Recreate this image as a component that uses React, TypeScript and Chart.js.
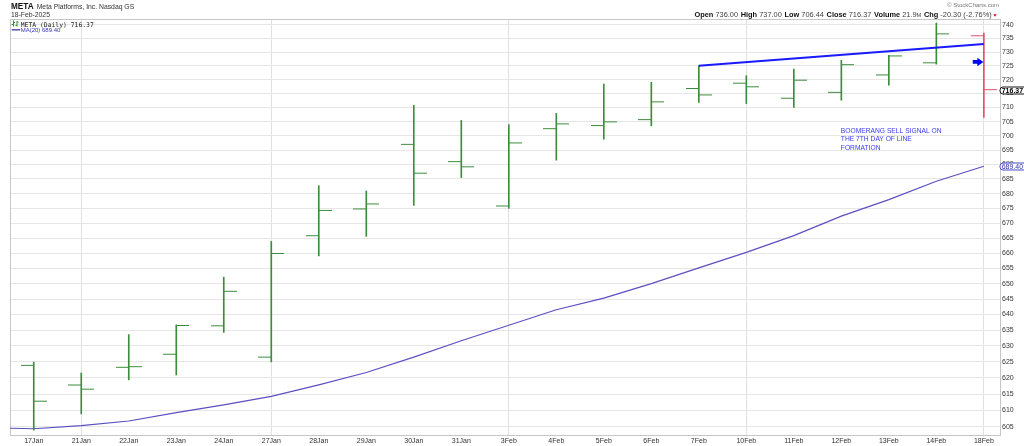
import React, { useEffect, useRef } from 'react';
import { Chart, registerables } from 'chart.js';

Chart.register(...registerables);

// ---------------- data ----------------
const categories = ['17Jan', '21Jan', '22Jan', '23Jan', '24Jan', '27Jan', '28Jan', '29Jan', '30Jan', '31Jan', '3Feb', '4Feb', '5Feb', '6Feb', '7Feb', '10Feb', '11Feb', '12Feb', '13Feb', '14Feb', '18Feb'];
const opens = [623.9, 617.8, 623.3, 627.4, 636.4, 626.5, 665.8, 674.8, 697.0, 691.0, 675.8, 702.5, 703.6, 705.7, 716.8, 718.7, 713.3, 715.4, 721.7, 726.1, 736.0];
const highs = [624.9, 621.5, 633.6, 636.7, 652.1, 663.9, 682.7, 680.9, 710.8, 705.4, 703.9, 707.9, 718.4, 719.0, 725.0, 721.4, 723.8, 727.0, 728.8, 740.7, 737.0];
const lows = [604.0, 608.9, 619.4, 620.9, 634.3, 625.0, 659.1, 665.6, 676.0, 685.5, 675.0, 691.5, 698.8, 703.5, 711.8, 711.4, 710.0, 712.6, 718.0, 725.6, 706.44];
const closes = [612.8, 616.5, 623.5, 636.5, 647.5, 659.9, 674.3, 676.5, 687.0, 689.2, 697.5, 704.2, 704.9, 712.0, 714.5, 717.4, 719.8, 725.4, 728.6, 736.7, 716.37];
// 20-day moving average (one lead-in value for the session before the first category)
const maLeadIn = 604.69;
const ma20 = [604.39, 605.36, 606.75, 609.31, 611.69, 614.3, 617.85, 621.68, 626.47, 631.66, 636.57, 641.54, 645.28, 649.98, 655.17, 660.25, 665.82, 672.38, 677.95, 684.22, 689.4];
const yTicks = [605, 610, 615, 620, 625, 630, 635, 640, 645, 650, 655, 660, 665, 670, 675, 680, 685, 690, 695, 700, 705, 710, 715, 720, 725, 730, 735, 740];
const weekStarts = ['21Jan', '27Jan', '3Feb', '10Feb', '18Feb'];
const trendDates = ['7Feb', '18Feb'];
const trendValues = [725.0, 733.0];
const signalDate = '18Feb';
const signalValue = 726.4;
const noteDate = '12Feb';
const noteValue = 701.6;
const noteLines = ['BOOMERANG SELL SIGNAL ON', 'THE 7TH DAY OF LINE', 'FORMATION'];
const statLabels = ['Open', 'High', 'Low', 'Close', 'Volume', 'Chg'];
const statValues = ['736.00', '737.00', '706.44', '716.37', '21.9', '-20.30 (-2.76%)'];

// ---------------- styles ----------------
const FONT = '"Liberation Sans", Arial, sans-serif';
const GREEN = '#3d8c3d';
const RED = '#e2506c';
const MA_COLOR = '#5a50c2';
const TREND_COLOR = '#1a1aff';
const GRID = '#e6e6e6';
const FRAME = '#c6c6c6';

function makeTick(side: 'left' | 'right', color: string) {
  const c = document.createElement('canvas');
  c.width = 26;
  c.height = 3;
  const g = c.getContext('2d')!;
  g.fillStyle = color;
  if (side === 'left') g.fillRect(0, 1, 13, 1);
  else g.fillRect(13, 1, 13, 1);
  return c;
}

const overlayPlugin = {
  id: 'overlay',
  beforeDatasetsDraw(chart: any) {
    const { ctx, chartArea } = chart;
    ctx.save();
    ctx.strokeStyle = FRAME;
    ctx.lineWidth = 1;
    ctx.beginPath();
    ctx.moveTo(Math.round(chartArea.left) + 0.5, Math.round(chartArea.bottom));
    ctx.lineTo(Math.round(chartArea.left) + 0.5, Math.round(chartArea.top) + 0.5);
    ctx.lineTo(Math.round(chartArea.right), Math.round(chartArea.top) + 0.5);
    ctx.stroke();
    ctx.restore();
  },
  afterDatasetsDraw(chart: any) {
    const { ctx, scales } = chart;
    const xs = scales.x, ys = scales.y;
    ctx.save();
    // signal arrow
    const tipX = xs.getPixelForValue(categories.indexOf(signalDate)) - 0.5;
    const ay = ys.getPixelForValue(signalValue);
    ctx.fillStyle = '#0000ff';
    ctx.beginPath();
    ctx.moveTo(tipX - 10.6, ay - 1.9);
    ctx.lineTo(tipX - 6, ay - 1.9);
    ctx.lineTo(tipX - 6, ay - 4.2);
    ctx.lineTo(tipX, ay);
    ctx.lineTo(tipX - 6, ay + 4.2);
    ctx.lineTo(tipX - 6, ay + 1.9);
    ctx.lineTo(tipX - 10.6, ay + 1.9);
    ctx.closePath();
    ctx.fill();
    // note
    const nx = xs.getPixelForValue(categories.indexOf(noteDate)) - 0.5;
    const ny = ys.getPixelForValue(noteValue);
    ctx.fillStyle = '#3a3af2';
    ctx.font = `6.7px ${FONT}`;
    ctx.textBaseline = 'middle';
    ctx.textAlign = 'left';
    noteLines.forEach((t, i) => ctx.fillText(t, nx, ny + i * 8.4));
    ctx.restore();
  },
  afterDraw(chart: any) {
    const { ctx, scales } = chart;
    const ys = scales.y;
    ctx.save();
    ctx.textAlign = 'left';
    ctx.textBaseline = 'alphabetic';
    // header left
    ctx.fillStyle = '#111';
    ctx.font = `bold 8.2px ${FONT}`;
    ctx.fillText('META', 11, 9);
    ctx.fillStyle = '#333';
    ctx.font = `6.8px ${FONT}`;
    ctx.fillText('Meta Platforms, Inc. Nasdaq GS', 36.7, 9);
    ctx.fillText('18-Feb-2025', 11, 16.6);
    // legend icon
    ctx.strokeStyle = GREEN;
    ctx.lineWidth = 1;
    ctx.beginPath();
    ctx.moveTo(13.5, 20.5); ctx.lineTo(13.5, 26.5);
    ctx.moveTo(11.5, 24.5); ctx.lineTo(13.5, 24.5);
    ctx.moveTo(13.5, 22.5); ctx.lineTo(15, 22.5);
    ctx.moveTo(17, 21); ctx.lineTo(17, 26.5);
    ctx.moveTo(15.5, 25.5); ctx.lineTo(17, 25.5);
    ctx.moveTo(17, 22); ctx.lineTo(18.5, 22);
    ctx.stroke();
    ctx.fillStyle = '#222';
    ctx.font = `6.4px "DejaVu Sans Mono", monospace`;
    ctx.fillText('META (Daily) 716.37', 20.7, 26.5);
    ctx.strokeStyle = MA_COLOR;
    ctx.lineWidth = 1.5;
    ctx.beginPath();
    ctx.moveTo(11.7, 29.8); ctx.lineTo(20.2, 29.8);
    ctx.stroke();
    ctx.fillStyle = '#3434b4';
    ctx.font = `6px ${FONT}`;
    ctx.fillText('MA(20) 689.40', 20.7, 32.3);

    // header right
    ctx.fillStyle = '#777';
    ctx.font = `6px ${FONT}`;
    ctx.textAlign = 'right';
    ctx.fillText('\u00A9 StockCharts.com', 999, 7.4);
    ctx.textAlign = 'left';
    const bold = `bold 7.4px ${FONT}`;
    const reg = `7.4px ${FONT}`;
    const small = `5.6px ${FONT}`;
    ctx.font = reg;
    const sp = ctx.measureText(' ').width;
    let total = 0;
    const parts: { text: string; font: string; color: string; w: number }[] = [];
    statLabels.forEach((lab, i) => {
      ctx.font = bold;
      parts.push({ text: lab, font: bold, color: '#111', w: ctx.measureText(lab).width + sp });
      ctx.font = reg;
      parts.push({ text: statValues[i], font: reg, color: '#444', w: ctx.measureText(statValues[i]).width });
      if (lab === 'Volume') {
        ctx.font = small;
        parts.push({ text: 'M', font: small, color: '#444', w: ctx.measureText('M').width });
      }
      if (i < statLabels.length - 1) parts[parts.length - 1].w += sp * 1.3;
    });
    parts.forEach((p) => (total += p.w));
    let hx = 991.7 - total;
    parts.forEach((p) => {
      ctx.font = p.font;
      ctx.fillStyle = p.color;
      ctx.fillText(p.text, hx, 16.8);
      hx += p.w;
    });
    ctx.fillStyle = '#e0103a';
    ctx.beginPath();
    ctx.moveTo(993.2, 14.2);
    ctx.lineTo(996.8, 14.2);
    ctx.lineTo(995, 16.8);
    ctx.closePath();
    ctx.fill();

    // value boxes on the price axis
    const box = (val: number, txt: string, stroke: string, color: string, font: string) => {
      const yc = ys.getPixelForValue(val);
      ctx.beginPath();
      (ctx as any).roundRect(1000, Math.round(yc) - 3, 25, 7, [3, 0, 0, 3]);
      ctx.fillStyle = '#fff';
      ctx.fill();
      ctx.strokeStyle = stroke;
      ctx.lineWidth = 1;
      ctx.stroke();
      ctx.fillStyle = color;
      ctx.font = font;
      ctx.textBaseline = 'middle';
      ctx.fillText(txt, 1001.7, Math.round(yc) + 0.6);
    };
    box(closes[closes.length - 1], closes[closes.length - 1].toFixed(2), '#111', '#000', `bold 7px ${FONT}`);
    box(ma20[ma20.length - 1], ma20[ma20.length - 1].toFixed(2), '#4a4ac8', '#2e2ea8', `7px ${FONT}`);
    ctx.restore();
  },
};

export default function App() {
  const ref = useRef<HTMLCanvasElement>(null);
  useEffect(() => {
    const canvas = ref.current!;
    const up = closes.map((c, i) => i === 0 || c >= closes[i - 1]);
    const leftG = makeTick('left', GREEN), leftR = makeTick('left', RED);
    const rightG = makeTick('right', GREEN), rightR = makeTick('right', RED);
    const chart = new Chart(canvas, {
      type: 'line',
      data: {
        datasets: [
          {
            type: 'line',
            label: 'MA(20)',
            data: [{ x: -1, y: maLeadIn }, ...ma20.map((v, i) => ({ x: i, y: v }))],
            borderColor: MA_COLOR,
            borderWidth: 1.2,
            pointRadius: 0,
            tension: 0,
            order: 4,
          } as any,
          {
            type: 'bar',
            label: 'range',
            data: categories.map((_, i) => ({ x: i, y: [lows[i], highs[i]] })),
            backgroundColor: up.map((u) => (u ? GREEN : RED)),
            barThickness: 1,
            borderWidth: 0,
            order: 3,
          } as any,
          {
            type: 'line',
            label: 'open',
            data: opens.map((v, i) => ({ x: i, y: v })),
            showLine: false,
            pointStyle: up.map((u) => (u ? leftG : leftR)),
            pointRadius: 1,
            order: 2,
          } as any,
          {
            type: 'line',
            label: 'close',
            data: closes.map((v, i) => ({ x: i, y: v })),
            showLine: false,
            pointStyle: up.map((u) => (u ? rightG : rightR)),
            pointRadius: 1,
            order: 2,
          } as any,
          {
            type: 'line',
            label: 'trend',
            data: trendDates.map((d, i) => ({ x: categories.indexOf(d), y: trendValues[i] })),
            borderColor: TREND_COLOR,
            borderWidth: 2,
            pointRadius: 0,
            order: 1,
          } as any,
        ],
      },
      options: {
        responsive: false,
        animation: false,
        devicePixelRatio: 1,
        events: [],
        layout: { padding: { left: 10, top: 19, right: 0, bottom: 0 } },
        plugins: { legend: { display: false }, tooltip: { enabled: false } },
        scales: {
          x: {
            type: 'linear',
            min: -0.5,
            max: 20.34,
            offset: false,
            afterBuildTicks: (s: any) => {
              s.ticks = categories.map((_, i) => ({ value: i }));
            },
            afterFit: (s: any) => {
              s.height = 11;
            },
            ticks: {
              autoSkip: false,
              maxRotation: 0,
              padding: 2,
              color: '#333',
              font: { family: FONT, size: 7 },
              callback: (v: any) => categories[v] ?? '',
            },
            grid: {
              drawTicks: false,
              offset: false,
              lineWidth: 1,
              color: (c: any) => (c.tick && weekStarts.includes(categories[c.tick.value]) ? '#e0e0e0' : 'rgba(0,0,0,0)'),
            },
            border: { display: true, color: FRAME },
          },
          y: {
            type: 'logarithmic',
            position: 'right',
            min: 602.5,
            max: 742.2,
            afterBuildTicks: (s: any) => {
              s.ticks = yTicks.map((v) => ({ value: v }));
            },
            afterFit: (s: any) => {
              s.width = 24;
            },
            ticks: {
              autoSkip: false,
              padding: 2,
              color: '#333',
              font: { family: FONT, size: 7 },
              callback: (v: any) => String(v),
            },
            grid: { drawTicks: false, color: GRID, lineWidth: 1 },
            border: { display: true, color: FRAME },
          },
        },
      } as any,
      plugins: [overlayPlugin],
    });
    return () => chart.destroy();
  }, []);
  return (
    <div style={{ position: 'absolute', left: 0, top: 0, width: 1024, height: 446, background: '#fff' }}>
      <canvas ref={ref} width={1024} height={446} style={{ display: 'block' }} />
    </div>
  );
}
